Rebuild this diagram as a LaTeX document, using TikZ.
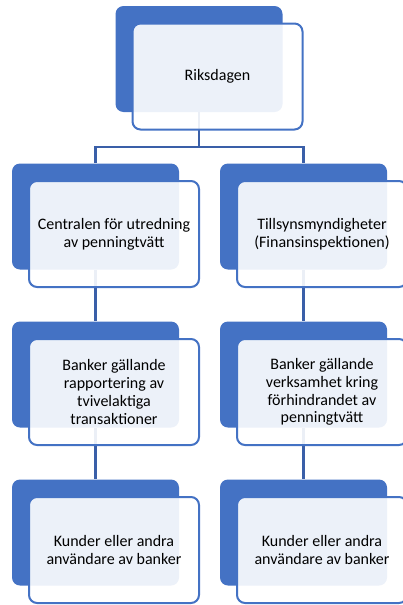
\documentclass[tikz,border=0pt]{standalone}
\usepackage{fontspec}
\setmainfont{Carlito}
\usetikzlibrary{backgrounds}
\definecolor{accent}{HTML}{4472C4}
\definecolor{linje}{HTML}{3A5FA8}
\tikzset{
  bak/.style={fill=accent, rounded corners=8pt, minimum width=167pt, minimum height=106pt, inner sep=0pt},
  fram/.style={draw=accent, line width=2pt, fill=white, fill opacity=.9, text opacity=1,
    rounded corners=8pt, minimum width=170pt, minimum height=106pt, align=center,
    font=\fontsize{16}{17.8}\selectfont},
  led/.style={draw=linje, line width=2.2pt}
}
\newcommand{\ruta}[4]{
  \node[bak] (#1b) at (#2,#3) {};
  \node[fram, xshift=18.5pt, yshift=-17.5pt] (#1) at (#1b) {#4};
}

\begin{document}
\begin{tikzpicture}[x=1pt,y=-1pt]
    \useasboundingbox (0,0) rectangle (403,605);
    \ruta{riks}{199}{59}{Riksdagen}
    \ruta{cent}{95.5}{216.5}{Centralen för utredning\\av penningtvätt}
    \ruta{till}{303.5}{216.5}{Tillsynsmyndigheter\\(Finansinspektionen)}
    \ruta{rapp}{95.5}{374.5}{Banker gällande\\rapportering av\\tvivelaktiga\\transaktioner}
    \ruta{verk}{303.5}{374.5}{Banker gällande\\verksamhet kring\\förhindrandet av\\penningtvätt}
    \ruta{kundv}{95.5}{532.5}{Kunder eller andra\\användare av banker}
    \ruta{kundh}{303.5}{532.5}{Kunder eller andra\\användare av banker}
    \begin{scope}[on background layer]
      \draw[led] (riksb.south) -- ++(0,35) -| (centb.north);
      \draw[led] (riksb.south) -- ++(0,35) -| (tillb.north);
      \draw[led] (centb.south) -- (rappb.north);
      \draw[led] (tillb.south) -- (verkb.north);
      \draw[led] (rappb.south) -- (kundvb.north);
      \draw[led] (verkb.south) -- (kundhb.north);
    \end{scope}
\end{tikzpicture}
\end{document}
